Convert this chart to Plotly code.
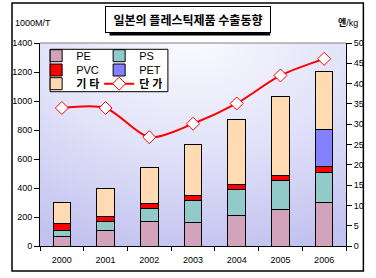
import base64
import plotly.graph_objects as go

years = ['2000', '2001', '2002', '2003', '2004', '2005', '2006']
pe = [65, 108, 170, 164, 212, 252, 302]
ps = [43, 63, 91, 150, 180, 200, 206]
pvc = [44, 34, 32, 32, 35, 33, 37]
pet = [None, None, None, None, None, None, 258]
others = [148, 195, 247, 354, 445, 545, 400]
price = [34.0, 34.0, 26.8, 30.1, 35.1, 42.0, 46.1]

W, H = 376, 278
ML, MR, MT, MB = 32, 27, 43, 32
PW, PH = W - ML - MR, H - MT - MB


def px(x):
    return (x - ML) / PW


def py(y):
    return (H - MB - y) / PH


KFONT = "Arial, 'Liberation Sans', 'Noto Sans CJK KR', sans-serif"

svg = ('<svg xmlns="http://www.w3.org/2000/svg" width="200" height="130" preserveAspectRatio="none">'
       '<defs><radialGradient id="g" cx="0.5" cy="0.05" r="1.0" fx="0.5" fy="0.0">'
       '<stop offset="0" stop-color="#FAFAFF"/><stop offset="0.5" stop-color="#E2E2F9"/>'
       '<stop offset="1" stop-color="#C2C2F0"/></radialGradient></defs>'
       '<rect width="200" height="130" fill="url(#g)"/></svg>')
bg_src = 'data:image/svg+xml;base64,' + base64.b64encode(svg.encode()).decode()

fig = go.Figure()
bar_line = dict(color='black', width=1)
fig.add_trace(go.Bar(x=years, y=pe, name='PE', marker=dict(color='#D3A2BB', line=bar_line),
                     legend='legend'))
fig.add_trace(go.Bar(x=years, y=ps, name='PS', marker=dict(color='#92CACA', line=bar_line),
                     legend='legend'))
fig.add_trace(go.Bar(x=years, y=pvc, name='PVC', marker=dict(color='#FF0000', line=bar_line),
                     legend='legend2'))
fig.add_trace(go.Bar(x=years, y=pet, name='PET', marker=dict(color='#8282FF', line=bar_line),
                     legend='legend2'))
fig.add_trace(go.Bar(x=years, y=others, name='<b>기 타</b>', marker=dict(color='#FFDAB2', line=bar_line),
                     legend='legend3'))
fig.add_trace(go.Scatter(x=years, y=price, name='<b>단 가</b>', yaxis='y2', mode='lines+markers',
                         line=dict(color='#FF0000', width=2, shape='spline', smoothing=0.8),
                         marker=dict(symbol='diamond', size=10, color='white',
                                     line=dict(color='#FF0000', width=1)),
                         legend='legend3'))

leg_common = dict(orientation='h', xanchor='left', yanchor='middle', bgcolor='rgba(0,0,0,0)',
                  borderwidth=0, entrywidth=18, entrywidthmode='pixels', traceorder='normal',
                  font=dict(family=KFONT, size=11, color='black'), itemwidth=30)

fig.update_layout(
    width=W, height=H,
    margin=dict(l=ML, r=MR, t=MT, b=MB, pad=0),
    paper_bgcolor='white',
    plot_bgcolor='rgba(0,0,0,0)',
    barmode='stack',
    bargap=0.6,
    showlegend=True,
    font=dict(family=KFONT, size=9, color='black'),
    xaxis=dict(type='category', showline=True, linecolor='black', linewidth=1,
               ticks='outside', ticklen=4, tickcolor='black', tickson='boundaries',
               tickfont=dict(size=9), showgrid=False, zeroline=False, mirror=False,
               ticklabelstandoff=5),
    yaxis=dict(range=[0, 1400], dtick=200, showline=True, linecolor='black', linewidth=1,
               ticks='outside', ticklen=5, tickcolor='black', tickfont=dict(size=9),
               showgrid=False, zeroline=False),
    yaxis2=dict(range=[0, 50], dtick=5, overlaying='y', side='right', showline=True,
                linecolor='black', linewidth=1, ticks='outside', ticklen=5, tickcolor='black',
                tickfont=dict(size=9), showgrid=False, zeroline=False),
    legend=dict(x=px(28), y=py(55.7), **leg_common),
    legend2=dict(x=px(28), y=py(70), **leg_common),
    legend3=dict(x=px(28), y=py(83.7), **leg_common),
    images=[dict(source=bg_src, xref='paper', yref='paper', x=0, y=1, sizex=1, sizey=1,
                 sizing='stretch', layer='below')],
    shapes=[
        # outer frame
        dict(type='rect', xref='paper', yref='paper', x0=px(3), x1=px(367), y0=py(271), y1=py(3),
             line=dict(color='black', width=1.5), fillcolor='rgba(0,0,0,0)', layer='below'),
        # title shadow
        dict(type='rect', xref='paper', yref='paper', x0=px(104), x1=px(270.5), y0=py(35.5),
             y1=py(8.5), line=dict(color='black', width=0), fillcolor='black', layer='below'),
        # plot area top edge
        dict(type='line', xref='paper', yref='paper', x0=0, x1=1, y0=1, y1=1,
             line=dict(color='#808080', width=1)),
        # legend box
        dict(type='rect', xref='paper', yref='paper', x0=px(42.5), x1=px(164.5), y0=py(91.7),
             y1=py(49.3), line=dict(color='black', width=1), fillcolor='white', layer='above'),
    ],
    annotations=[
        dict(text='<b>일본의 플레스틱제품 수출동향</b>', xref='paper', yref='paper',
             x=px(185), y=py(19.5), xanchor='center', yanchor='middle', showarrow=False,
             width=160, height=21,
             font=dict(family="'Noto Sans CJK KR', sans-serif", size=12, color='black'),
             bgcolor='white', bordercolor='black', borderwidth=1, borderpad=2),
        dict(text='1000M/T', xref='paper', yref='paper', x=px(4), y=py(23),
             xanchor='left', yanchor='middle', showarrow=False,
             font=dict(family=KFONT, size=9, color='black')),
        dict(text='<b>엔</b>/kg', xref='paper', yref='paper', x=px(364), y=py(23),
             xanchor='right', yanchor='middle', showarrow=False,
             font=dict(family=KFONT, size=9, color='black')),
    ],
)

fig.write_html('out.html')
